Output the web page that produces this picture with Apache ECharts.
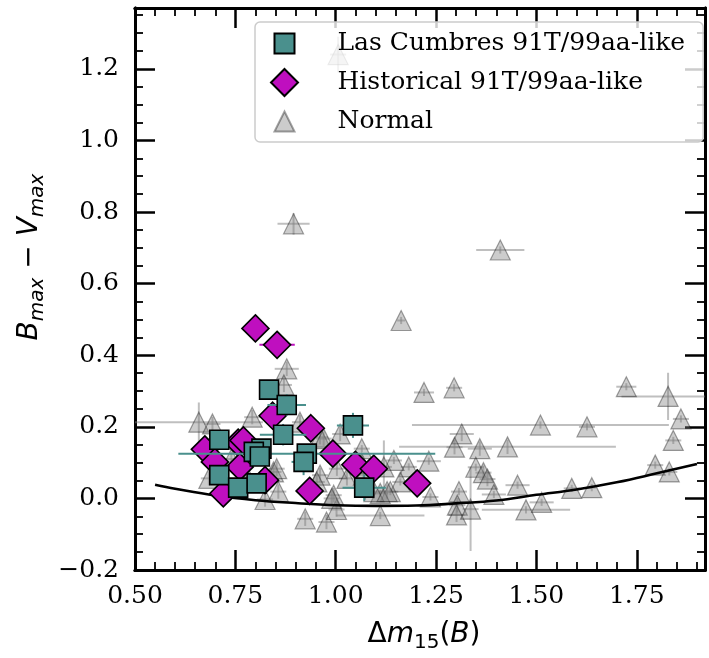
<!DOCTYPE html>
<html><head><meta charset="utf-8">
<script src="https://cdn.jsdelivr.net/npm/echarts@6/dist/echarts.min.js"></script>
<style>html,body{margin:0;padding:0;background:#fff}#c{width:709px;height:658px}</style>
</head><body><div id="c"></div><script>
// ---- Las Cumbres 91T/99aa-like ----
const lcX    = [0.834, 0.878, 0.869, 0.710, 0.815, 0.796, 0.811, 0.928, 0.920, 0.710, 0.757, 0.803, 1.043, 1.071];
const lcY    = [0.304, 0.261, 0.178, 0.164, 0.139, 0.130, 0.117, 0.125, 0.102, 0.065, 0.030, 0.042, 0.204, 0.030];
const lcXErr = [0.015, 0.048, 0.058, 0.015, 0.020, 0.020, 0.020, 0.320, 0.030, 0.015, 0.015, 0.015, 0.040, 0.054];
const lcYErr = [0.015, 0.030, 0.030, 0.015, 0.020, 0.020, 0.020, 0.015, 0.037, 0.015, 0.015, 0.015, 0.035, 0.037];
// ---- Historical 91T/99aa-like ----
const hiX    = [0.800, 0.854, 0.843, 0.938, 0.674, 0.757, 0.770, 0.699, 0.761, 0.720, 0.824, 0.993, 0.935, 1.049, 1.095, 1.203];
const hiY    = [0.475, 0.429, 0.231, 0.196, 0.137, 0.156, 0.162, 0.102, 0.088, 0.014, 0.051, 0.125, 0.021, 0.094, 0.083, 0.042];
const hiXErr = [0.005, 0.044, 0.010, 0.010, 0.010, 0.010, 0.010, 0.010, 0.010, 0.010, 0.010, 0.010, 0.010, 0.010, 0.030, 0.010];
const hiYErr = [0.005, 0.010, 0.010, 0.010, 0.010, 0.010, 0.010, 0.010, 0.010, 0.010, 0.010, 0.010, 0.010, 0.010, 0.010, 0.010];
// ---- Normal ----
const noX = [1.006, 0.895, 1.410, 1.163, 0.878, 0.871, 1.220, 1.295, 1.724, 1.828, 1.860, 1.510, 1.626, 1.314, 1.296, 1.359,
             1.428, 1.232, 1.841, 1.796, 1.831, 1.349, 1.368, 1.378, 1.394, 1.453, 1.588, 1.638, 1.236, 1.307, 1.303, 1.301,
             1.336, 1.474, 1.513, 1.182, 1.145, 1.120, 1.161, 1.136, 1.111, 1.111, 1.065, 0.659, 0.693, 0.792, 1.011, 0.961,
             0.911, 0.845, 0.857, 0.824, 0.684, 0.924, 0.977, 1.002, 0.995, 0.961, 0.953, 1.003, 1.028, 1.065, 1.069, 1.095,
             1.128, 0.990, 0.780, 0.740, 0.853, 0.970];
const noY = [1.240, 0.767, 0.694, 0.497, 0.362, 0.317, 0.296, 0.309, 0.312, 0.285, 0.222, 0.205, 0.200, 0.180, 0.143, 0.139,
             0.144, 0.104, 0.162, 0.093, 0.074, 0.087, 0.072, 0.054, 0.011, 0.037, 0.028, 0.030, 0.004, 0.019, -0.019, -0.046,
             -0.030, -0.032, -0.011, 0.088, 0.106, 0.088, 0.046, 0.019, 0.014, -0.048, 0.139, 0.213, 0.208, 0.227, 0.180, 0.171,
             0.213, 0.074, 0.019, -0.003, 0.056, -0.057, -0.066, -0.031, 0.009, 0.065, 0.046, 0.083, 0.056, 0.097, 0.065, 0.019,
             0.019, 0.000, 0.060, 0.110, 0.083, 0.167];
const noXErr = [0.020, 0.040, 0.060, 0.010, 0.030, 0.020, 0.025, 0.020, 0.025, 0.116, 0.020, 0.320, 0.020, 0.030, 0.020, 0.030,
                0.270, 0.030, 0.020, 0.020, 0.020, 0.020, 0.020, 0.020, 0.030, 0.030, 0.020, 0.010, 0.020, 0.020, 0.020, 0.020,
                0.020, 0.110, 0.030, 0.020, 0.020, 0.020, 0.020, 0.020, 0.020, 0.110, 0.020, 0.160, 0.020, 0.020, 0.020, 0.020,
                0.020, 0.020, 0.020, 0.020, 0.020, 0.020, 0.020, 0.020, 0.020, 0.020, 0.020, 0.020, 0.020, 0.020, 0.020, 0.020,
                0.020, 0.020, 0.020, 0.020, 0.020, 0.020];
const noYErr = [0.050, 0.030, 0.010, 0.010, 0.020, 0.020, 0.010, 0.010, 0.010, 0.066, 0.010, 0.010, 0.010, 0.020, 0.020, 0.020,
                0.020, 0.010, 0.010, 0.010, 0.010, 0.010, 0.020, 0.020, 0.010, 0.010, 0.010, 0.010, 0.010, 0.010, 0.020, 0.020,
                0.117, 0.010, 0.010, 0.010, 0.010, 0.074, 0.010, 0.010, 0.010, 0.010, 0.010, 0.055, 0.020, 0.020, 0.020, 0.020,
                0.020, 0.020, 0.020, 0.020, 0.020, 0.020, 0.020, 0.020, 0.020, 0.020, 0.020, 0.020, 0.020, 0.020, 0.020, 0.020,
                0.020, 0.020, 0.020, 0.020, 0.020, 0.020];
// ---- reference curve ----
const curveX = [0.55, 0.60, 0.70, 0.80, 0.90, 1.00, 1.10, 1.20, 1.30, 1.40, 1.50, 1.60, 1.70, 1.80, 1.90];
const curveY = [0.038, 0.027, 0.008, -0.005, -0.013, -0.019, -0.021, -0.020, -0.014, -0.006, 0.010, 0.025, 0.045, 0.070, 0.096];
// ---- ticks ----
const xMajor = [0.50, 0.75, 1.00, 1.25, 1.50, 1.75];
const xMinor = [0.55, 0.60, 0.65, 0.70, 0.80, 0.85, 0.90, 0.95, 1.05, 1.10, 1.15, 1.20, 1.30, 1.35, 1.40, 1.45,
                1.55, 1.60, 1.65, 1.70, 1.80, 1.85, 1.90];
const yMajor = [-0.2, 0.0, 0.2, 0.4, 0.6, 0.8, 1.0, 1.2];
const yMinor = [-0.15, -0.10, -0.05, 0.05, 0.10, 0.15, 0.25, 0.30, 0.35, 0.45, 0.50, 0.55, 0.65, 0.70, 0.75,
                0.85, 0.90, 0.95, 1.05, 1.10, 1.15, 1.25, 1.30, 1.35];

const X_MIN = 0.5, X_MAX = 1.92, Y_MIN = -0.2, Y_MAX = 1.37;
const TEAL = '#4a908d', MAG = '#bf0fbf';
const SERIF = 'DejaVu Serif', SANS = 'DejaVu Sans';

const pack = (xs, ys, xe, ye) => xs.map((x, i) => [x, ys[i], xe[i], ye[i]]);
const lcData = pack(lcX, lcY, lcXErr, lcYErr);
const hiData = pack(hiX, hiY, hiXErr, hiYErr);
const noData = pack(noX, noY, noXErr, noYErr);
const curveData = curveX.map((x, i) => [x, curveY[i]]);

function errSeries(data, color, z) {
  return {
    type: 'custom', data: data, z: z, silent: true, clip: true,
    encode: { x: 0, y: 1 },
    renderItem: function (params, api) {
      const x = api.value(0), y = api.value(1), xe = api.value(2), ye = api.value(3);
      const a = api.coord([x - xe, y]), b = api.coord([x + xe, y]);
      const c = api.coord([x, y - ye]), d = api.coord([x, y + ye]);
      const st = { stroke: color, lineWidth: 2 };
      return { type: 'group', children: [
        { type: 'line', shape: { x1: a[0], y1: a[1], x2: b[0], y2: b[1] }, style: st },
        { type: 'line', shape: { x1: c[0], y1: c[1], x2: d[0], y2: d[1] }, style: st }
      ]};
    }
  };
}

const baseLine = { show: true, onZero: false, lineStyle: { color: '#000', width: 3 } };
function xAxisDef(pos, ticks, len, w, withLabel) {
  const ax = {
    type: 'value', position: pos, min: X_MIN, max: X_MAX, gridIndex: 0,
    axisLine: baseLine, splitLine: { show: false },
    axisTick: { show: true, inside: true, length: len, lineStyle: { color: '#000', width: w }, customValues: ticks },
    axisLabel: { show: false }
  };
  if (withLabel) {
    ax.axisLabel = { show: true, customValues: xMajor, margin: 14, color: '#000', fontFamily: SERIF, fontSize: 25,
      formatter: v => v.toFixed(2) };
    ax.name = '{d|Δ}{m|m}{s|15}{p|(}{m|B}{p|)}';
    ax.nameLocation = 'middle';
    ax.nameGap = 48;
    ax.nameTextStyle = { padding: [0, 0, 0, 8], rich: {
      d: { fontFamily: SANS, fontSize: 28, color: '#000', lineHeight: 34 },
      m: { fontFamily: SANS, fontSize: 28, fontStyle: 'italic', color: '#000', lineHeight: 34 },
      p: { fontFamily: SANS, fontSize: 28, color: '#000', lineHeight: 34 },
      s: { fontFamily: SANS, fontSize: 20, color: '#000', lineHeight: 22, padding: [16, 0, 0, 0] }
    }};
  }
  return ax;
}
function yAxisDef(pos, ticks, len, w, withLabel) {
  const ax = {
    type: 'value', position: pos, min: Y_MIN, max: Y_MAX, interval: 0.2, gridIndex: 0,
    axisLine: baseLine, splitLine: { show: false },
    axisTick: { show: true, inside: true, length: len, lineStyle: { color: '#000', width: w }, customValues: ticks },
    axisLabel: { show: false }
  };
  if (withLabel) {
    ax.axisLabel = { show: true, customValues: yMajor, margin: 16, color: '#000', fontFamily: SERIF, fontSize: 25,
      formatter: v => (v < -1e-9 ? '\u2212' + Math.abs(v).toFixed(1) : Math.abs(v).toFixed(1)) };
    ax.name = '{m|B}{s|max}{p| \u2212 }{m|V}{s|max}';
    ax.nameLocation = 'middle';
    ax.nameGap = 88;
    ax.nameTextStyle = { padding: [0, 0, 0, 64], rich: {
      m: { fontFamily: SANS, fontSize: 28, fontStyle: 'italic', color: '#000', lineHeight: 34 },
      p: { fontFamily: SANS, fontSize: 28, color: '#000', lineHeight: 34 },
      s: { fontFamily: SANS, fontSize: 20, fontStyle: 'italic', color: '#000', lineHeight: 22, padding: [16, 0, 0, 0] }
    }};
  }
  return ax;
}

const chart = echarts.init(document.getElementById('c'), null, { renderer: 'canvas' });
chart.setOption({
  animation: false,
  backgroundColor: '#fff',
  grid: { left: 135, right: 4, top: 8, bottom: 86, containLabel: false },
  xAxis: [
    xAxisDef('bottom', xMajor, 20, 2.5, true),
    xAxisDef('bottom', xMinor, 8, 1.8, false),
    xAxisDef('top', xMajor, 20, 2.5, false),
    xAxisDef('top', xMinor, 8, 1.8, false)
  ],
  yAxis: [
    yAxisDef('left', yMajor, 20, 2.5, true),
    yAxisDef('left', yMinor, 8, 1.8, false),
    yAxisDef('right', yMajor, 20, 2.5, false),
    yAxisDef('right', yMinor, 8, 1.8, false)
  ],
  legend: {
    orient: 'vertical', left: 255, top: 22,
    data: [
      { name: 'Las Cumbres 91T/99aa-like', icon: 'path://M0,0M27,27M3.5,3.5L23.5,3.5L23.5,23.5L3.5,23.5Z' },
      { name: 'Historical 91T/99aa-like', icon: 'path://M13.5,0L27,13.5L13.5,27L0,13.5Z' },
      { name: 'Normal', icon: 'path://M0,0M27,27M13.5,3.5L23.5,23.5L3.5,23.5Z' }
    ],
    itemWidth: 40, itemHeight: 27, itemGap: 10,
    padding: [7, 18, 6, 15],
    backgroundColor: 'rgba(255,255,255,0.8)', borderColor: '#cccccc', borderWidth: 1.5, borderRadius: 5,
    textStyle: { fontFamily: SERIF, fontSize: 25, color: '#000', lineHeight: 27, padding: [0, 0, 0, 28] },
    selectedMode: false, z: 20
  },
  series: [
    errSeries(noData, 'rgba(128,128,128,0.5)', 1),
    { name: 'Normal', type: 'scatter', data: noData, z: 2, symbol: 'triangle', symbolSize: 20,
      itemStyle: { color: 'rgba(128,128,128,0.5)', borderColor: 'rgba(0,0,0,0.45)', borderWidth: 1.2 } },
    { name: 'curve', type: 'line', data: curveData, z: 3, smooth: 0.4, showSymbol: false, symbol: 'none',
      lineStyle: { color: '#000', width: 2.6 }, silent: true },
    errSeries(hiData, MAG, 4),
    { name: 'Historical 91T/99aa-like', type: 'scatter', data: hiData, z: 5, symbol: 'diamond', symbolSize: 27,
      itemStyle: { color: MAG, borderColor: '#000', borderWidth: 1.6, opacity: 1 } },
    errSeries(lcData, TEAL, 6),
    { name: 'Las Cumbres 91T/99aa-like', type: 'scatter', data: lcData, z: 7, symbol: 'rect', symbolSize: 19,
      itemStyle: { color: TEAL, borderColor: '#000', borderWidth: 1.6, opacity: 1 } }
  ]
});
</script></body></html>
